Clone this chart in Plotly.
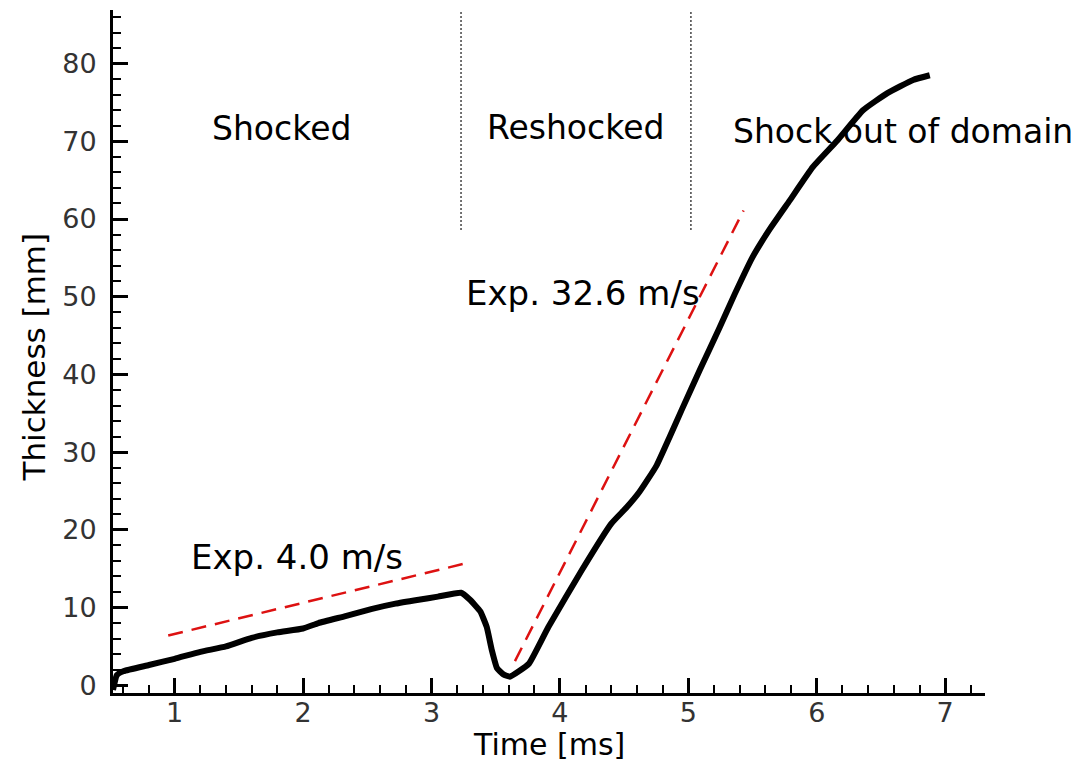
import plotly.graph_objects as go

# Mixing-zone thickness history
time_ms = [0.52, 0.55, 0.6, 0.8, 1.0, 1.2, 1.4, 1.6, 1.8, 2.0, 2.12, 2.33, 2.53, 2.72,
           2.9, 3.05, 3.23, 3.3, 3.38, 3.43, 3.47, 3.51, 3.56, 3.61, 3.68, 3.76,
           3.91, 4.17, 4.40, 4.52, 4.62, 4.75, 4.85, 4.95, 5.09, 5.24, 5.36, 5.5,
           5.63, 5.79, 5.97, 6.16, 6.36, 6.55, 6.75, 6.88]
thickness_mm = [-0.6, 1.3, 1.8, 2.6, 3.4, 4.3, 5.0, 6.1, 6.8, 7.3, 8.0, 8.9, 9.8, 10.5,
                11.0, 11.4, 11.9, 11.0, 9.5, 7.5, 4.5, 2.2, 1.4, 1.1, 1.8, 2.8,
                7.5, 14.8, 20.8, 22.9, 24.9, 28.2, 31.8, 35.5, 40.6, 45.9, 50.3, 55.1,
                58.6, 62.4, 66.7, 70.1, 74.0, 76.2, 77.9, 78.5]

# Experimental growth rates (4.0 m/s and 32.6 m/s)
exp_shock_t = [0.95, 3.27]
exp_shock_y = [6.4, 15.7]
exp_reshock_t = [3.65, 5.43]
exp_reshock_y = [3.1, 61.1]

# Regime boundaries
divider_t = [3.23, 5.02]
divider_y = [58.6, 86.9]

regime_labels = ["Shocked", "Reshocked", "Shock out of domain"]
regime_t = [1.83, 4.12, 6.67]
regime_y = [71.7, 71.8, 71.3]

rate_labels = ["Exp. 4.0 m/s", "Exp. 32.6 m/s"]
rate_t = [1.95, 4.18]
rate_y = [16.5, 50.5]

FONT = "DejaVu Sans"

fig = go.Figure()

for t in divider_t:
    fig.add_trace(go.Scatter(
        x=[t, t], y=divider_y, mode="lines",
        line=dict(color="#444444", width=1.5, dash="2px,2px"),
        hoverinfo="skip"))

fig.add_trace(go.Scatter(
    x=exp_shock_t, y=exp_shock_y, mode="lines",
    line=dict(color="#dd1111", width=2.5, dash="15px,9px")))
fig.add_trace(go.Scatter(
    x=exp_reshock_t, y=exp_reshock_y, mode="lines",
    line=dict(color="#dd1111", width=2.5, dash="15px,9px")))

fig.add_trace(go.Scatter(
    x=time_ms, y=thickness_mm, mode="lines",
    line=dict(color="black", width=6, shape="spline", smoothing=0.4)))

annotations = []
for txt, tx, ty in zip(regime_labels, regime_t, regime_y):
    annotations.append(dict(x=tx, y=ty, xref="x", yref="y", text=txt, showarrow=False,
                            font=dict(family=FONT, size=33, color="black")))
for txt, tx, ty in zip(rate_labels, rate_t, rate_y):
    annotations.append(dict(x=tx, y=ty, xref="x", yref="y", text=txt, showarrow=False,
                            font=dict(family=FONT, size=34, color="black")))

annotations.append(dict(x=0.5, y=0, xref="paper", yref="paper", yanchor="middle",
                        yshift=-51, text="Time [ms]", showarrow=False,
                        font=dict(family=FONT, size=30, color="black")))
annotations.append(dict(x=0, y=0.5, xref="paper", yref="paper", xanchor="center",
                        xshift=-80, yshift=-6, text="Thickness [mm]", textangle=-90,
                        showarrow=False, font=dict(family=FONT, size=31, color="black")))

axis_common = dict(
    showline=True, linecolor="black", linewidth=3,
    ticks="inside", tickcolor="black", tickwidth=3, ticklen=15,
    showgrid=False, zeroline=False, mirror=False,
    tickfont=dict(family=FONT, size=27, color="#333333"),
)

fig.update_layout(
    width=1077, height=761,
    margin=dict(l=113, r=92, t=10, b=68),
    paper_bgcolor="white", plot_bgcolor="white",
    showlegend=False,
    annotations=annotations,
    xaxis=dict(range=[0.52, 7.31], tick0=0, dtick=1,
               minor=dict(ticks="inside", ticklen=8, tickwidth=2, tickcolor="black", dtick=0.2),
               ticklabelstandoff=-6, **axis_common),
    yaxis=dict(range=[-1, 86.9], tick0=0, dtick=10,
               minor=dict(ticks="inside", ticklen=8, tickwidth=2, tickcolor="black", dtick=2),
               ticklabelstandoff=8, **axis_common),
)

fig.write_html("out.html")
